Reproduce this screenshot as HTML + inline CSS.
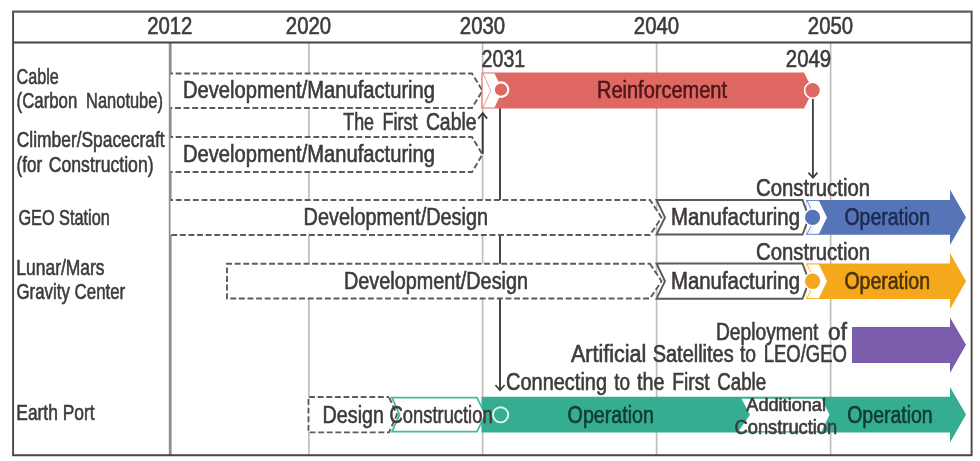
<!DOCTYPE html>
<html lang="en">
<head>
<meta charset="utf-8">
<title>Space Elevator Construction Roadmap</title>
<style>
html,body{margin:0;padding:0;background:#fff;}
body{width:980px;height:461px;overflow:hidden;}
svg{display:block;}
svg text{font-family:"Liberation Sans",sans-serif;stroke-width:0.6;paint-order:stroke;}
</style>
</head>
<body>
<svg width="980" height="461" viewBox="0 0 980 461">
<rect width="980" height="461" fill="#fff"/>
<line x1="308.9" y1="43" x2="308.9" y2="455" stroke="#c1bdbd" stroke-width="1.7"/>
<line x1="482.6" y1="43" x2="482.6" y2="455" stroke="#c1bdbd" stroke-width="1.7"/>
<line x1="656.6" y1="43" x2="656.6" y2="455" stroke="#c1bdbd" stroke-width="1.7"/>
<line x1="830.6" y1="43" x2="830.6" y2="455" stroke="#c1bdbd" stroke-width="1.7"/>
<line x1="170.2" y1="43" x2="170.2" y2="455" stroke="#928d8d" stroke-width="2.8"/>
<line x1="500" y1="100" x2="500" y2="389" stroke="#423c3c" stroke-width="1.9"/>
<path d="M495.4 385 L500 390.2 L504.6 385" fill="none" stroke="#423c3c" stroke-width="1.7"/>
<line x1="482.7" y1="113.5" x2="482.7" y2="154" stroke="#3a3535" stroke-width="1.9"/>
<path d="M478.2 118.6 L482.7 113 L487.2 118.6" fill="none" stroke="#3a3535" stroke-width="1.7"/>
<line x1="812.9" y1="95" x2="812.9" y2="177" stroke="#423c3c" stroke-width="1.8"/>
<path d="M808.4 172.6 L812.9 177.8 L817.4 172.6" fill="none" stroke="#423c3c" stroke-width="1.7"/>
<path d="M170.5 73.5 H472 L482.5 90.7 L472 108 H170.5" fill="#fff" stroke="#605b5b" stroke-width="1.9" stroke-dasharray="5.9 2.7" stroke-dashoffset="3.4"/>
<path d="M170.5 137 H472 L482.5 154.5 L472 172 H170.5" fill="#fff" stroke="#605b5b" stroke-width="1.9" stroke-dasharray="5.9 2.7" stroke-dashoffset="3.4"/>
<path d="M170.5 200 H650 L661.5 217.5 L650 235 H170.5" fill="#fff" stroke="#605b5b" stroke-width="1.9" stroke-dasharray="5.9 2.7" stroke-dashoffset="3.4"/>
<path d="M650 263.8 H227 V298.5 H650 L661.5 281.2 Z" fill="#fff" stroke="#605b5b" stroke-width="1.9" stroke-dasharray="5.9 2.7" stroke-dashoffset="3.4"/>
<path d="M481.5 72.6 H804 L813 90.5 L804 108.4 H481.5 Z" fill="#e06862"/>
<path d="M482.6 73.6 H494.5 L502.5 90.5 L494.5 107.4 H482.6 Z" fill="#fff"/>
<path d="M483.2 73.8 L490.8 90.5 L483.2 107.2" fill="none" stroke="#e06862" stroke-width="0.9" opacity="0.75"/>
<circle cx="501" cy="89.6" r="7.3" fill="#e06862" stroke="#fff" stroke-width="2.2"/>
<circle cx="812.6" cy="90.3" r="8" fill="#e06862" stroke="#fff" stroke-width="1.6"/>
<path d="M806.5 200.0 H950 V189.6 L966 217.4 L950 245.0 V234.8 H806.5 Z" fill="#5675b8"/>
<path d="M806.5 200.0 H809.5 L818 217.4 L809.5 234.8 H806.5 Z" fill="#fff"/>
<path d="M807 200.5 L815.2 217.4 L807 234.3" fill="none" stroke="#5675b8" stroke-width="1.1" opacity="0.7"/>
<path d="M809.5 200.0 H818.5 L827 217.4 L818.5 234.8 H809.5 L818 217.4 Z" fill="#fff"/>
<path d="M802.5 200.0 H656.5 L665 217.4 L656.5 234.5 H802.5 L809 217.4 Z" fill="#fff" stroke="#5e5959" stroke-width="1.9"/>
<path d="M806 200.5 H820 M806 234.3 H820" stroke="#5675b8" stroke-width="1" fill="none" opacity="0.85"/>
<circle cx="812.6" cy="217.4" r="8.4" fill="#5675b8" stroke="#fff" stroke-width="1.5"/>
<path d="M806.5 263.5 H950 V253.1 L966 281.25 L950 309.2 V299.0 H806.5 Z" fill="#f5a81c"/>
<path d="M806.5 263.5 H809.5 L818 281.25 L809.5 299.0 H806.5 Z" fill="#fff"/>
<path d="M807 264.0 L815.2 281.25 L807 298.5" fill="none" stroke="#f5a81c" stroke-width="1.1" opacity="0.7"/>
<path d="M809.5 263.5 H818.5 L827 281.25 L818.5 299.0 H809.5 L818 281.25 Z" fill="#fff"/>
<path d="M802.5 263.5 H656.5 L665 281.25 L656.5 298.7 H802.5 L809 281.25 Z" fill="#fff" stroke="#5e5959" stroke-width="1.9"/>
<path d="M806 264.0 H820 M806 298.5 H820" stroke="#f5a81c" stroke-width="1" fill="none" opacity="0.85"/>
<circle cx="812.6" cy="281.25" r="8.4" fill="#f5a81c" stroke="#fff" stroke-width="1.5"/>
<path d="M852 327 H950 V317.4 L966 344.8 L950 373 V363 H852 Z" fill="#7a5eac"/>
<path d="M481.5 396.8 H950 V387 L966 414.5 L950 442.5 V432.4 H481.5 Z" fill="#34ad90"/>
<path d="M392 397.6 H477 L485.3 414.7 L477 431.7 H392 L399.5 414.7 Z" fill="#fff" stroke="#45b89c" stroke-width="1.7"/>
<path d="M389 397 H308.5 V432.4 H389 Z" fill="#fff"/>
<path d="M389 397 H308.5 V432.4 H389 L397 414.7 Z" fill="none" stroke="#605b5b" stroke-width="1.9" stroke-dasharray="5.9 2.7" stroke-dashoffset="3.4"/>
<circle cx="500.6" cy="414.8" r="7.6" fill="#34ad90" stroke="#e4f4f0" stroke-width="1.9"/>
<path d="M741.5 398.7 H821.6 L829.5 414.8 L821.6 431.2 H738.5 L750 414.8 Z" fill="#fff"/>
<path d="M13.1 11.6 V455.3 H971.6 V11.6" fill="none" stroke="#4b4343" stroke-width="1.9" stroke-linejoin="miter"/>
<line x1="12.15" y1="11.6" x2="972.55" y2="11.6" stroke="#635b5b" stroke-width="2.1"/>
<line x1="13" y1="42.5" x2="971.6" y2="42.5" stroke="#4b4343" stroke-width="1.9"/>
<text x="147.15" y="33.8" font-size="23.2" textLength="45.3" lengthAdjust="spacingAndGlyphs" fill="#3e3a39" stroke="#3e3a39">2012</text>
<text x="285.85" y="33.8" font-size="23.2" textLength="45.3" lengthAdjust="spacingAndGlyphs" fill="#3e3a39" stroke="#3e3a39">2020</text>
<text x="459.85" y="33.8" font-size="23.2" textLength="45.3" lengthAdjust="spacingAndGlyphs" fill="#3e3a39" stroke="#3e3a39">2030</text>
<text x="633.85" y="33.8" font-size="23.2" textLength="45.3" lengthAdjust="spacingAndGlyphs" fill="#3e3a39" stroke="#3e3a39">2040</text>
<text x="807.85" y="33.8" font-size="23.2" textLength="45.3" lengthAdjust="spacingAndGlyphs" fill="#3e3a39" stroke="#3e3a39">2050</text>
<text x="481.6" y="67.3" font-size="24" textLength="43.6" lengthAdjust="spacingAndGlyphs" fill="#3e3a39" stroke="#3e3a39">2031</text>
<text x="785.8" y="67.3" font-size="24" textLength="45.4" lengthAdjust="spacingAndGlyphs" fill="#3e3a39" stroke="#3e3a39">2049</text>
<text x="16.5" y="83.8" font-size="22" textLength="42.2" lengthAdjust="spacingAndGlyphs" fill="#3e3a39" stroke="#3e3a39">Cable</text>
<text y="108.1" font-size="22" fill="#3e3a39" stroke="#3e3a39"><tspan x="16.6" textLength="60.7" lengthAdjust="spacingAndGlyphs">(Carbon</tspan> <tspan x="86.1" textLength="76.8" lengthAdjust="spacingAndGlyphs">Nanotube)</tspan></text>
<text x="16.8" y="146.5" font-size="22" textLength="147.8" lengthAdjust="spacingAndGlyphs" fill="#3e3a39" stroke="#3e3a39">Climber/Spacecraft</text>
<text y="171.6" font-size="22" fill="#3e3a39" stroke="#3e3a39"><tspan x="16.6" textLength="25.5" lengthAdjust="spacingAndGlyphs">(for</tspan> <tspan x="48.8" textLength="104.8" lengthAdjust="spacingAndGlyphs">Construction)</tspan></text>
<text x="18.4" y="225.1" font-size="22" textLength="91.4" lengthAdjust="spacingAndGlyphs" fill="#3e3a39" stroke="#3e3a39">GEO Station</text>
<text x="16.3" y="274.5" font-size="22" textLength="88.3" lengthAdjust="spacingAndGlyphs" fill="#3e3a39" stroke="#3e3a39">Lunar/Mars</text>
<text x="16.5" y="298.5" font-size="22" textLength="108.7" lengthAdjust="spacingAndGlyphs" fill="#3e3a39" stroke="#3e3a39">Gravity Center</text>
<text x="16.3" y="420.3" font-size="22" textLength="78.3" lengthAdjust="spacingAndGlyphs" fill="#3e3a39" stroke="#3e3a39">Earth Port</text>
<text x="183" y="98" font-size="23" textLength="252.0" lengthAdjust="spacingAndGlyphs" fill="#3e3a39" stroke="#3e3a39">Development/Manufacturing</text>
<text x="183" y="161.5" font-size="23" textLength="252.0" lengthAdjust="spacingAndGlyphs" fill="#3e3a39" stroke="#3e3a39">Development/Manufacturing</text>
<text y="129.6" font-size="23" fill="#3e3a39" stroke="#3e3a39"><tspan x="343.3" textLength="30.7" lengthAdjust="spacingAndGlyphs">The</tspan> <tspan x="382.4" textLength="35.1" lengthAdjust="spacingAndGlyphs">First</tspan> <tspan x="425.9" textLength="50.6" lengthAdjust="spacingAndGlyphs">Cable</tspan></text>
<text x="597" y="98" font-size="23" textLength="130.0" lengthAdjust="spacingAndGlyphs" fill="#4d1816" stroke="#4d1816">Reinforcement</text>
<text x="303.6" y="225.4" font-size="23" textLength="184.4" lengthAdjust="spacingAndGlyphs" fill="#3e3a39" stroke="#3e3a39">Development/Design</text>
<text x="344" y="289" font-size="23" textLength="184.0" lengthAdjust="spacingAndGlyphs" fill="#3e3a39" stroke="#3e3a39">Development/Design</text>
<text x="671" y="225.2" font-size="23" textLength="129.0" lengthAdjust="spacingAndGlyphs" fill="#3e3a39" stroke="#3e3a39">Manufacturing</text>
<text x="671" y="289" font-size="23" textLength="129.0" lengthAdjust="spacingAndGlyphs" fill="#3e3a39" stroke="#3e3a39">Manufacturing</text>
<text x="756" y="196.4" font-size="23" textLength="114.0" lengthAdjust="spacingAndGlyphs" fill="#3e3a39" stroke="#3e3a39">Construction</text>
<text x="756" y="259.6" font-size="23" textLength="114.0" lengthAdjust="spacingAndGlyphs" fill="#3e3a39" stroke="#3e3a39">Construction</text>
<text x="844.4" y="225" font-size="23" textLength="85.6" lengthAdjust="spacingAndGlyphs" fill="#1c2a52" stroke="#1c2a52">Operation</text>
<text x="844.4" y="288.8" font-size="23" textLength="85.6" lengthAdjust="spacingAndGlyphs" fill="#4a3208" stroke="#4a3208">Operation</text>
<text y="339.5" font-size="23" fill="#3e3a39" stroke="#3e3a39"><tspan x="716.0" textLength="102.4" lengthAdjust="spacingAndGlyphs">Deployment</tspan> <tspan x="828.1" textLength="18.8" lengthAdjust="spacingAndGlyphs">of</tspan></text>
<text y="362.2" font-size="23" fill="#3e3a39" stroke="#3e3a39"><tspan x="570.9" textLength="75.5" lengthAdjust="spacingAndGlyphs">Artificial</tspan> <tspan x="652.7" textLength="81.0" lengthAdjust="spacingAndGlyphs">Satellites</tspan> <tspan x="739.9" textLength="16.1" lengthAdjust="spacingAndGlyphs">to</tspan> <tspan x="763.8" textLength="83.1" lengthAdjust="spacingAndGlyphs">LEO/GEO</tspan></text>
<text y="390" font-size="23" fill="#3e3a39" stroke="#3e3a39"><tspan x="506.1" textLength="100.9" lengthAdjust="spacingAndGlyphs">Connecting</tspan> <tspan x="614.2" textLength="15.8" lengthAdjust="spacingAndGlyphs">to</tspan> <tspan x="637.1" textLength="27.5" lengthAdjust="spacingAndGlyphs">the</tspan> <tspan x="672.3" textLength="37.3" lengthAdjust="spacingAndGlyphs">First</tspan> <tspan x="717.3" textLength="48.9" lengthAdjust="spacingAndGlyphs">Cable</tspan></text>
<text x="322.6" y="423" font-size="23" textLength="61.4" lengthAdjust="spacingAndGlyphs" fill="#3e3a39" stroke="#3e3a39">Design</text>
<text x="389.6" y="423" font-size="23" textLength="103.0" lengthAdjust="spacingAndGlyphs" fill="#3e3a39" stroke="#3e3a39">Construction</text>
<text x="567.6" y="423" font-size="23" textLength="86.4" lengthAdjust="spacingAndGlyphs" fill="#113a30" stroke="#113a30">Operation</text>
<text x="847.2" y="423" font-size="23" textLength="85.4" lengthAdjust="spacingAndGlyphs" fill="#113a30" stroke="#113a30">Operation</text>
<text x="746.3" y="410.9" font-size="19" textLength="79.7" lengthAdjust="spacingAndGlyphs" fill="#3e3a39" stroke="#3e3a39">Additional</text>
<text x="734.6" y="433.9" font-size="20" textLength="102.6" lengthAdjust="spacingAndGlyphs" fill="#3e3a39" stroke="#3e3a39">Construction</text>
</svg>
</body>
</html>
